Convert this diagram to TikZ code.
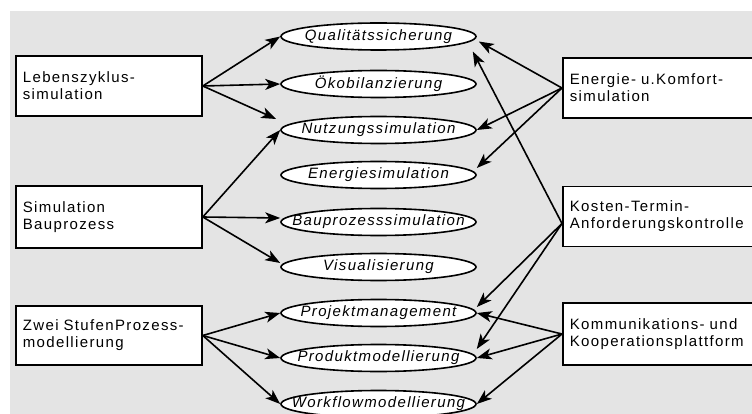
\documentclass[tikz,border=0pt]{standalone}
\usepackage{fontspec}
\setmainfont{Liberation Sans}[LetterSpace=9]
\usetikzlibrary{arrows.meta,shapes.geometric,positioning}
\definecolor{bggray}{RGB}{228,228,228}

\begin{document}
\begin{tikzpicture}[x=1pt, y=-1pt]
\tikzset{
    simbox/.style={draw, fill=white, line width=1.8pt, anchor=west, minimum width=186pt, minimum height=60pt,
        text width=172pt, inner sep=7pt, align=left, font=\fontsize{15}{17}\selectfont},
    sidebox/.style={simbox, minimum width=200pt, text width=186pt},
    taskell/.style={ellipse, draw, fill=white, line width=1.6pt, minimum width=195pt, minimum height=27pt,
        inner xsep=-40pt, inner ysep=0pt, font=\fontsize{15}{17}\selectfont\itshape},
    linkarrow/.style={-{Stealth[length=15pt, width=11pt, inset=4pt]}, line width=1.6pt}
}

\useasboundingbox (0,0) rectangle (752,414);
\clip (0,0) rectangle (752,414);
\fill[bggray] (10,11) rectangle (752,414);

% left: simulation groups
\node[simbox] (leben) at (15,86) {Lebenszyklus-\\simulation};
\node[simbox, minimum height=62pt] (bauproz) at (15,217) {Simulation\\Bauprozess};
\node[simbox, minimum height=59pt] (zwei) at (15,335.5) {Zwei StufenProzess-\\modellierung};

% middle: tasks
\node[taskell] (qual) at (378.5,36.5) {Qualitätssicherung};
\node[taskell] (oeko) at (378.5,84) {Ökobilanzierung};
\node[taskell] (nutz) at (378.5,130) {Nutzungssimulation};
\node[taskell] (energ) at (378.5,175) {Energiesimulation};
\node[taskell] (bausim) at (378.5,222) {Bauprozesssimulation};
\node[taskell] (visu) at (378.5,267) {Visualisierung};
\node[taskell] (proj) at (378.5,313) {Projektmanagement};
\node[taskell] (prod) at (378.5,358) {Produktmodellierung};
\node[taskell] (work) at (378.5,404) {Workflowmodellierung};

% right: control and platform
\node[sidebox] (komfort) at (562,88) {Energie- u.Komfort-\\simulation};
\node[sidebox] (kosten) at (562,216.5) {Kosten-Termin-\\Anforderungskontrolle};
\node[sidebox, minimum height=62pt] (komm) at (562,334) {Kommunikations- und\\Kooperationsplattform};

% arrows from the left
\draw[linkarrow] (leben.east) -- (qual.west);
\draw[linkarrow] (leben.east) -- (oeko.west);
\draw[linkarrow] (leben.east) -- ([xshift=-4pt,yshift=11pt]nutz.west);
\draw[linkarrow] (bauproz.east) -- (nutz.west);
\draw[linkarrow] (bauproz.east) -- ([yshift=4pt]bausim.west);
\draw[linkarrow] (bauproz.east) -- ([yshift=4pt]visu.west);
\draw[linkarrow] (zwei.east) -- (proj.west);
\draw[linkarrow] (zwei.east) -- (prod.west);
\draw[linkarrow] (zwei.east) -- (work.west);

% arrows from the right
\draw[linkarrow] (komfort.west) -- ([xshift=2pt,yshift=-5pt]qual.east);
\draw[linkarrow] (komfort.west) -- (nutz.east);
\draw[linkarrow] (komfort.west) -- ([yshift=7pt]energ.east);
\draw[linkarrow] ([yshift=-7pt]kosten.west) -- ([xshift=-4pt,yshift=-15pt]qual.east);
\draw[linkarrow] ([yshift=-7pt]kosten.west) -- ([yshift=6pt]proj.east);
\draw[linkarrow] ([yshift=-7pt]kosten.west) -- ([yshift=9pt]prod.east);
\draw[linkarrow] (komm.west) -- (proj.east);
\draw[linkarrow] (komm.west) -- (prod.east);
\draw[linkarrow] (komm.west) -- (work.east);
\end{tikzpicture}
\end{document}
